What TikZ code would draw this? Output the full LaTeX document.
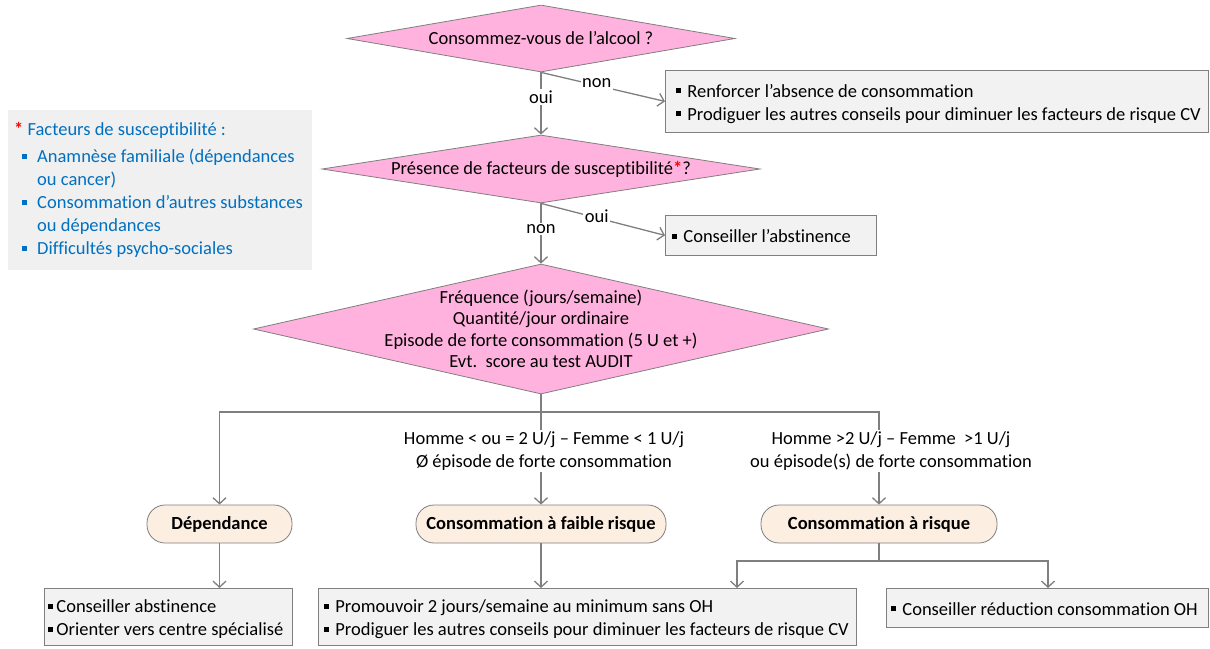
\documentclass[tikz,border=0pt]{standalone}
\usepackage{fontspec}
\setmainfont{Carlito}[Ligatures=NoCommon]
\usetikzlibrary{arrows.meta,shapes.geometric}
\definecolor{pinkd}{RGB}{255,178,222}
\definecolor{peach}{RGB}{253,238,226}
\definecolor{boxg}{RGB}{242,242,242}
\definecolor{legg}{RGB}{240,240,240}
\definecolor{lineg}{RGB}{127,127,127}
\definecolor{legblue}{RGB}{0,112,192}
\newcommand\bsq[1][black]{\textcolor{#1}{\rule[0.2em]{0.27em}{0.27em}}}
\newcommand\fs{\fontsize{18.5}{23}\selectfont}
\newcommand\lbox[2]{\raisebox{-2.5pt}[\height][\depth]{\makebox[#1][l]{\begin{tabular}{@{}l@{}}#2\end{tabular}}}}
\tikzset{
  dia/.style={diamond, draw=lineg, fill=pinkd, inner sep=0pt, line width=0.8pt},
  txt/.style={font=\fs, align=center, inner sep=0pt},
  box/.style={rectangle, draw=lineg, fill=boxg, line width=0.8pt, inner ysep=0pt, font=\fs, anchor=north west},
  pill/.style={rectangle, rounded corners=18pt, draw=lineg, fill=peach, line width=0.8pt, font=\fs\bfseries, minimum height=38pt, inner sep=0pt},
  conn/.style={draw=lineg, line width=1.3pt},
  arr/.style={conn, -{Straight Barb[length=6pt,width=13pt]}},
  lbl/.style={fill=white, inner sep=1.5pt, font=\fs, align=center},
}
\begin{document}
\begin{tikzpicture}[x=1pt,y=-1pt]
\useasboundingbox (0,0) rectangle (1210,648);
% legend
\node[fill=legg, minimum width=304pt, minimum height=160pt, inner sep=0pt, anchor=north west] (leg) at (8,110) {};
\node[anchor=north west, inner sep=0pt, align=left, font=\fs, text=legblue] (legtxt) at (14,122) {%
{\color{red}\bfseries *} Facteurs de susceptibilité :\\[4pt]
\hspace*{8pt}\bsq[legblue]\hspace{10pt}Anamnèse familiale (dépendances\\
\hspace*{23pt}ou cancer)\\
\hspace*{8pt}\bsq[legblue]\hspace{10pt}Consommation d’autres substances\\
\hspace*{23pt}ou dépendances\\
\hspace*{8pt}\bsq[legblue]\hspace{10pt}Difficultés psycho-sociales};
% diamonds
\node[dia, minimum width=388pt, minimum height=67pt] (d1) at (541,38.5) {};
\node[txt] (t1) at (d1) {Consommez-vous de l’alcool ?};
\node[dia, minimum width=438pt, minimum height=68pt] (d2) at (541,169) {};
\node[txt] (t2) at (d2) {Présence de facteurs de susceptibilité{\color{red}\bfseries*}?};
\node[dia, minimum width=575pt, minimum height=130pt] (d3) at (541,329) {};
\node[txt, font=\fontsize{18.5}{21.5}\selectfont] (t3) at (d3) {Fréquence (jours/semaine)\\Quantité/jour ordinaire\\Episode de forte consommation (5 U et +)\\Evt.\ \ score au test AUDIT};
% side boxes
\node[box, minimum height=62pt, inner xsep=11pt] (b1) at (665,70) {\lbox{521pt}{\bsq\hspace{6pt}Renforcer l’absence de consommation\\\bsq\hspace{6pt}Prodiguer les autres conseils pour diminuer les facteurs de risque CV}};
\node[box, minimum height=40pt, inner xsep=7pt] (b2) at (665,215) {\lbox{197pt}{\bsq\hspace{6pt}Conseiller l’abstinence}};
% pills
\node[pill, minimum width=145pt] (pdep) at (219.5,524) {Dépendance};
\node[pill, minimum width=250pt] (pfai) at (541,524) {Consommation à faible risque};
\node[pill, minimum width=236pt] (pris) at (879,524) {Consommation à risque};
% bottom boxes
\node[box, minimum height=57pt, inner xsep=4pt] (bdep) at (44,588) {\lbox{240pt}{\bsq\hspace{3pt}Conseiller abstinence\\\bsq\hspace{3pt}Orienter vers centre spécialisé}};
\node[box, minimum height=57pt, inner xsep=6pt] (bfai) at (318,588) {\lbox{526pt}{\bsq\hspace{6pt}Promouvoir 2 jours/semaine au minimum sans OH\\\bsq\hspace{6pt}Prodiguer les autres conseils pour diminuer les facteurs de risque CV}};
\node[box, minimum height=39pt, inner xsep=5pt] (bred) at (886,588) {\lbox{312pt}{\bsq\hspace{6pt}Conseiller réduction consommation OH}};
% connectors
\draw[arr] (d1.south) -- node[lbl, pos=0.4] (loui1) {oui} (d2.north);
\draw[arr] (d1.south) -- node[lbl, pos=0.45, yshift=2pt] (lnon1) {non} (b1.west);
\draw[arr] (d2.south) -- node[lbl, pos=0.43] (lnon2) {non} (d3.north);
\draw[arr] (d2.south) -- node[lbl, pos=0.45, yshift=2pt] (loui2) {oui} (b2.west);
\coordinate (j) at (541,412);
\draw[conn] (d3.south) -- (j);
\draw[arr] (j) -| (pdep.north);
\draw[arr] (j) -- node[lbl, pos=0.42, xshift=3pt] (lfai) {Homme < ou = 2 U/j – Femme < 1 U/j\\Ø épisode de forte consommation} (pfai.north);
\draw[arr] (j) -| node[lbl, pos=0.71, xshift=12pt] (lris) {Homme >2 U/j – Femme\ \ >1 U/j\\ou épisode(s) de forte consommation} (pris.north);
\draw[arr] (pdep.south) -- (pdep.south |- bdep.north);
\draw[arr] (pfai.south) -- (pfai.south |- bfai.north);
\coordinate (rl) at (737,561);
\coordinate (rr) at (1048,561);
\draw[conn] (pris.south) -- (pris.south |- rl);
\draw[arr] (rl -| pris.south) -- (rl) -- (rl |- bfai.north);
\draw[arr] (rl -| pris.south) -- (rr) -- (rr |- bred.north);
\end{tikzpicture}
\end{document}
